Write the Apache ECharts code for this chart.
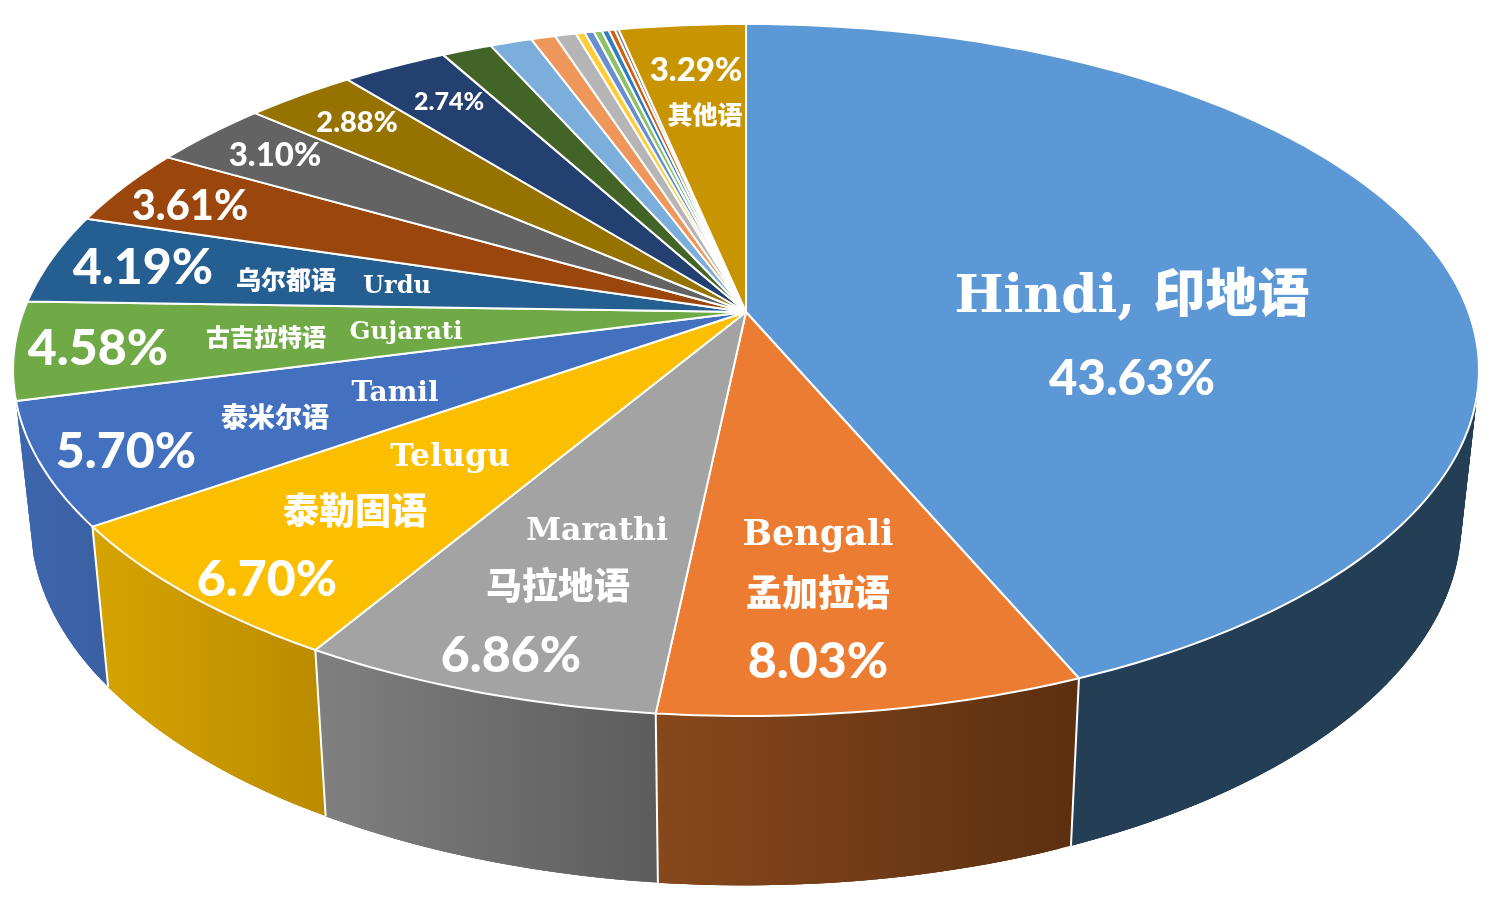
<!DOCTYPE html>
<html>
<head>
<meta charset="utf-8">
<title>语言分布</title>
<script src="https://cdn.jsdelivr.net/npm/echarts@6/dist/echarts.min.js"></script>
<style>
html, body { margin: 0; background: #fff; }
#main { width: 1493px; height: 906px; }
</style>
</head>
<body>
<div id="main"></div>
<script>
// 各语言占比，按顺时针顺序，从12点方向开始（最后一块是其他语）
const shares = [43.63, 8.03, 6.86, 6.70, 5.70, 4.58, 4.19, 3.61, 3.10, 2.88, 2.74,
    1.30, 1.09, 0.63, 0.55, 0.23, 0.24, 0.21, 0.18, 0.16, 0.10, 3.29];
const topColors = ['#5B98D5', '#EB7C31', '#A3A3A3', '#FBBF00', '#4371C0', '#6FAA47', '#255E91', '#9A460D', '#636363', '#967200', '#234071',
    '#426527', '#7CAEDC', '#EF975A', '#B5B5B5', '#FFCD33', '#698ED0', '#8CC168', '#327DC2', '#D26012', '#848484', '#C89500'];
// 只有前五块的侧面可见：[左色, 右色]
const sideColors = [['#243F55', '#243F55'], ['#87481C', '#5C2F10'], ['#808080', '#5C5C5C'], ['#D6A400', '#BA8B00'], ['#3E66AE', '#3A60A2']];

// 标签里的名称
const nameLabels = ['Hindi, 印地语', 'Bengali', '孟加拉语', 'Marathi', '马拉地语', 'Telugu', '泰勒固语', 'Tamil', '泰米尔语',
    'Gujarati', '古吉拉特语', 'Urdu', '乌尔都语', '其他语'];

// 标签布局（和数据分开）
const nameLayout = [[1132, 298, 52], [818, 536, 35], [818, 597, 36], [597, 532, 31.5], [558, 590, 36], [450, 458, 31.5], [355, 515, 36],
    [395, 394, 28], [275, 420, 27], [406, 333, 24.5], [266, 340, 24], [397, 287, 24], [286, 282, 25], [705, 117, 25]];
const pctLayout = {
    0: [1132, 379, 49], 1: [818, 662, 50], 2: [511, 656, 50], 3: [267, 580, 50], 4: [126, 452, 50], 5: [98, 349, 50],
    6: [143, 268, 50], 7: [190, 207, 41.5], 8: [275, 155, 33], 9: [357, 123, 29], 10: [449, 102, 25], 21: [696, 70, 33]
};

// 透视投影参数：顶面圆 -> 屏幕
const cx = 746, cy = 312, rx = 722.6, ry = 336.3, persp = 0.1676;
const bottomScaleX = 0.976, bottomScaleY = 1.048, bottomCy = 462;

function rimPoint(pct) {
    let a = pct / 100 * Math.PI * 2;
    let w = 1 + persp * Math.cos(a);
    return [cx + rx * Math.sin(a) / w, cy - ry * Math.cos(a) / w];
}
function bottomPoint(p) {
    return [cx + (p[0] - cx) * bottomScaleX, bottomCy + (p[1] - cy) * bottomScaleY];
}
function arc(from, to) {
    let pts = [];
    let n = Math.max(2, Math.ceil((to - from) / 0.25));
    for (let i = 0; i <= n; i++) {
        pts.push(rimPoint(from + (to - from) * i / n));
    }
    return pts;
}

let sum = 0;
const ranges = shares.map(v => {
    let r = [sum, sum + v];
    sum += v;
    return r;
});

function renderSide(params, api) {
    let i = params.dataIndex;
    let top = arc(api.value(0), api.value(1));
    let bottom = top.map(bottomPoint);
    let xs = top.concat(bottom).map(p => p[0]);
    let fill = {
        type: 'linear', global: true,
        x: Math.min.apply(null, xs), y: 0, x2: Math.max.apply(null, xs), y2: 0,
        colorStops: [{ offset: 0, color: sideColors[i][0] }, { offset: 1, color: sideColors[i][1] }]
    };
    let children = [];
    // 一条一条铺，互相压一点免得有缝；左右的轮廓才是上下两个椭圆的切线
    for (let j = 0; j < top.length - 1; j++) {
        let e = Math.min(j + 3, top.length - 1);
        children.push({
            type: 'polygon',
            shape: { points: [top[j], top[e], bottom[e], bottom[j]] },
            style: { fill: fill }
        });
    }
    if (i > 0) {
        children.push({
            type: 'line',
            z2: 5,
            shape: { x1: top[0][0], y1: top[0][1], x2: bottom[0][0], y2: bottom[0][1] },
            style: { stroke: '#fff', lineWidth: 2 }
        });
    }
    return { type: 'group', children: children };
}

function renderTop(params, api) {
    let pts = [[cx, cy]].concat(arc(api.value(0), api.value(1)));
    return {
        type: 'polygon',
        shape: { points: pts },
        style: { fill: topColors[params.dataIndex], stroke: '#fff', lineWidth: 2, lineJoin: 'round' }
    };
}

const serifFont = '"DejaVu Serif", "Noto Sans CJK SC", serif';
const labels = [];
nameLabels.forEach((text, i) => {
    let l = nameLayout[i];
    labels.push({
        type: 'text', x: l[0], y: l[1], z: 100, silent: true,
        style: { text: text, fill: '#fff', fontFamily: serifFont, fontWeight: 900, fontSize: l[2], textAlign: 'center', textVerticalAlign: 'middle' }
    });
});
Object.keys(pctLayout).forEach(k => {
    let l = pctLayout[k];
    labels.push({
        type: 'text', x: l[0], y: l[1], z: 100, silent: true,
        style: { text: shares[k].toFixed(2) + '%', fill: '#fff', fontFamily: 'Lato, "Open Sans", sans-serif', fontWeight: 900, fontSize: l[2], textAlign: 'center', textVerticalAlign: 'middle' }
    });
});

let myEchart = echarts.init(document.getElementById('main'));
myEchart.setOption({
    backgroundColor: '#fff',
    animation: false,
    tooltip: { show: false },
    series: [{
        name: 'side',
        type: 'custom',
        coordinateSystem: 'none',
        silent: true,
        z: 1,
        renderItem: renderSide,
        data: ranges.slice(0, sideColors.length)
    }, {
        name: 'top',
        type: 'custom',
        coordinateSystem: 'none',
        silent: true,
        z: 2,
        renderItem: renderTop,
        data: ranges
    }],
    graphic: labels
});
</script>
</body>
</html>
